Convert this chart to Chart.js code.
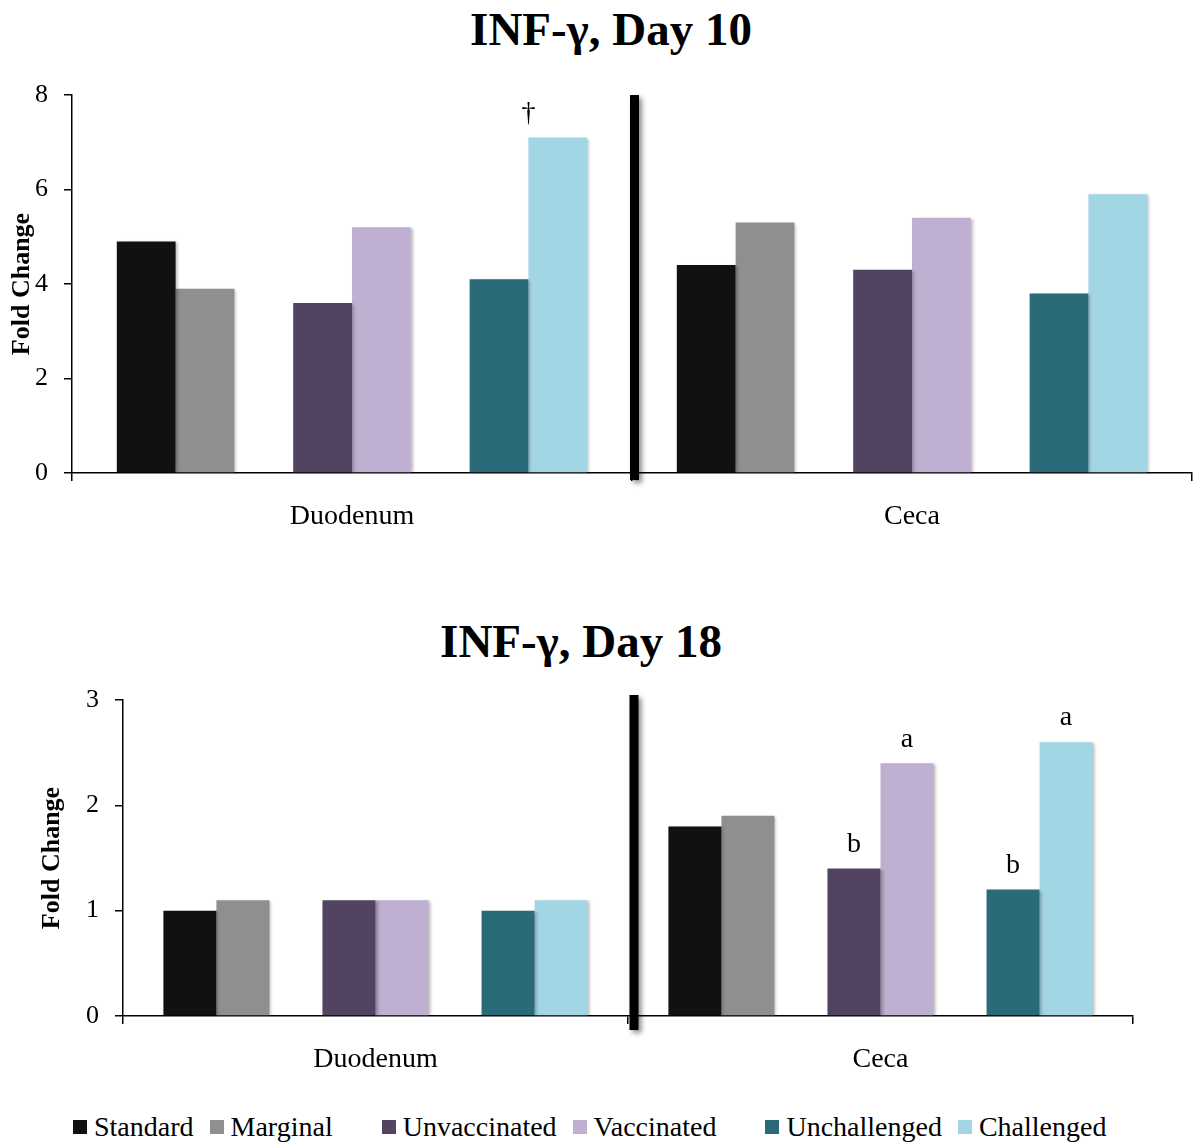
<!DOCTYPE html>
<html>
<head>
<meta charset="utf-8">
<script src="https://cdn.jsdelivr.net/npm/chart.js@4.4.0/dist/chart.umd.min.js"></script>
<style>
  html, body { margin: 0; padding: 0; background: #fff; }
  body { width: 1199px; height: 1143px; position: relative; overflow: hidden; font-family: "Liberation Serif", serif; }
  .title { position: absolute; font-weight: bold; font-size: 47px; color: #000; white-space: nowrap; transform: translateX(-50%); line-height: 1; }
  #wrapTop { position: absolute; left: 0; top: 0; width: 1199px; height: 545px; }
  #wrapBottom { position: absolute; left: 0; top: 560px; width: 1199px; height: 540px; }
  #legend { position: absolute; top: 1111px; left: 73px; display: flex; align-items: center; font-size: 28px; color: #000; }
  #legend .item { display: flex; align-items: center; }
  #legend .box { width: 14px; height: 14px; margin-right: 7px; }
  #legend .pair { margin-right: 16px; }
  #legend .group { margin-right: 49px; }
</style>
</head>
<body>
<div class="title" style="left:611px; top:6px;">INF-γ, Day 10</div>
<div class="title" style="left:581px; top:618px;">INF-γ, Day 18</div>
<div id="wrapTop"><canvas id="chartTop"></canvas></div>
<div id="wrapBottom"><canvas id="chartBottom"></canvas></div>
<div id="legend"></div>

<script>
// categorías y series
const categories = ['Duodenum', 'Ceca'];
const seriesNames = ['Standard', 'Marginal', 'Unvaccinated', 'Vaccinated', 'Unchallenged', 'Challenged'];
const seriesColors = ['#111111', '#8f8f8f', '#524361', '#bfb0d2', '#2a6a79', '#a3d6e4'];

// Día 10
const day10Standard = [4.9, 4.4];
const day10Marginal = [3.9, 5.3];
const day10Unvaccinated = [3.6, 4.3];
const day10Vaccinated = [5.2, 5.4];
const day10Unchallenged = [4.1, 3.8];
const day10Challenged = [7.1, 5.9];
const day10Ticks = [0, 2, 4, 6, 8];
const day10Marks = [
  { series: 'Challenged', category: 'Duodenum', text: '†', edge: -0.5 }
];

// Día 18
const day18Standard = [1.0, 1.8];
const day18Marginal = [1.1, 1.9];
const day18Unvaccinated = [1.1, 1.4];
const day18Vaccinated = [1.1, 2.4];
const day18Unchallenged = [1.0, 1.2];
const day18Challenged = [1.1, 2.6];
const day18Ticks = [0, 1, 2, 3];
const day18Marks = [
  { series: 'Unvaccinated', category: 'Ceca', text: 'b', edge: 0 },
  { series: 'Vaccinated', category: 'Ceca', text: 'a', edge: 0 },
  { series: 'Unchallenged', category: 'Ceca', text: 'b', edge: 0 },
  { series: 'Challenged', category: 'Ceca', text: 'a', edge: 0 }
];

const FONT = "'Liberation Serif', serif";

// datasets con huecos entre pares
const buildDatasets = (values) => {
  const ds = [];
  values.forEach((v, i) => {
    ds.push({
      label: seriesNames[i],
      data: v,
      backgroundColor: seriesColors[i],
      borderWidth: 0
    });
    if (i === 1 || i === 3) {
      ds.push({ label: '_gap' + i, data: categories.map(() => null), backgroundColor: 'transparent' });
    }
  });
  return ds;
};

// sombra de barras + línea divisoria + letras
const decorPlugin = {
  id: 'decor',
  beforeDatasetsDraw(chart) {
    const ctx = chart.ctx;
    ctx.save();
    ctx.shadowColor = 'rgba(0,0,0,0.28)';
    ctx.shadowBlur = 3;
    ctx.shadowOffsetX = 2;
    ctx.shadowOffsetY = 1;
  },
  afterDatasetsDraw(chart) {
    chart.ctx.restore();
  },
  afterDraw(chart, args, opts) {
    const ctx = chart.ctx;
    const xs = chart.scales.x;
    const area = chart.chartArea;

    // divisoria
    const xDiv = (xs.getPixelForValue(0) + xs.getPixelForValue(1)) / 2 + opts.dividerShift;
    ctx.save();
    ctx.shadowColor = 'rgba(0,0,0,0.45)';
    ctx.shadowBlur = 5;
    ctx.shadowOffsetX = 3;
    ctx.shadowOffsetY = 3;
    ctx.fillStyle = '#000';
    ctx.fillRect(xDiv - 4.5, area.top + opts.dividerTop, 9, area.bottom - area.top - opts.dividerTop + opts.dividerBottom);
    ctx.restore();

    // letras de significancia
    ctx.save();
    ctx.fillStyle = '#000';
    ctx.font = '28px ' + FONT;
    ctx.textAlign = 'center';
    ctx.textBaseline = 'bottom';
    (opts.marks || []).forEach(m => {
      const dsIndex = chart.data.datasets.findIndex(d => d.label === m.series);
      const catIndex = categories.indexOf(m.category);
      const bar = chart.getDatasetMeta(dsIndex).data[catIndex];
      ctx.fillText(m.text, bar.x + m.edge * bar.width, bar.y - 10);
    });
    ctx.restore();
  }
};

const createChart = (canvasId, values, ticks, marks, cfg) => {
  const ctx = document.getElementById(canvasId);
  return new Chart(ctx, {
    type: 'bar',
    data: {
      labels: categories,
      datasets: buildDatasets(values)
    },
    plugins: [decorPlugin],
    options: {
      responsive: true,
      maintainAspectRatio: false,
      animation: false,
      layout: {
        padding: { top: cfg.padTop, right: cfg.padRight, left: 0, bottom: 0 }
      },
      datasets: {
        bar: { categoryPercentage: 0.84, barPercentage: 1.0 }
      },
      plugins: {
        legend: { display: false },
        tooltip: { enabled: false },
        decor: {
          marks: marks,
          dividerShift: cfg.dividerShift,
          dividerTop: cfg.dividerTop,
          dividerBottom: cfg.dividerBottom
        }
      },
      scales: {
        x: {
          afterFit: s => { s.height = cfg.xHeight; },
          border: { color: '#000', width: 1.5 },
          grid: { offset: true, drawOnChartArea: false, drawTicks: true, tickLength: 8, color: '#000', lineWidth: 1.5 },
          ticks: { color: '#000', font: { family: FONT, size: 28 }, padding: 19 }
        },
        y: {
          min: ticks[0],
          max: ticks[ticks.length - 1],
          afterFit: s => { s.width = cfg.yWidth; },
          afterBuildTicks: s => { s.ticks = ticks.map(v => ({ value: v })); },
          border: { color: '#000', width: 1.5 },
          grid: { drawOnChartArea: false, drawTicks: true, tickLength: 8, color: '#000', lineWidth: 1.5 },
          ticks: { color: '#000', font: { family: FONT, size: 26 }, padding: 16 },
          title: {
            display: true,
            text: 'Fold Change',
            color: '#000',
            font: { family: FONT, size: 26, weight: 'bold' },
            padding: { top: cfg.yTitlePad, bottom: 0 }
          }
        }
      }
    }
  });
};

createChart('chartTop',
  [day10Standard, day10Marginal, day10Unvaccinated, day10Vaccinated, day10Unchallenged, day10Challenged],
  day10Ticks, day10Marks,
  { padTop: 95, padRight: 7, xHeight: 72, yWidth: 72, yTitlePad: 7, dividerShift: 2.5, dividerTop: 0, dividerBottom: 7 });

createChart('chartBottom',
  [day18Standard, day18Marginal, day18Unvaccinated, day18Vaccinated, day18Unchallenged, day18Challenged],
  day18Ticks, day18Marks,
  { padTop: 140, padRight: 66, xHeight: 84, yWidth: 123, yTitlePad: 37, dividerShift: 6, dividerTop: -5, dividerBottom: 14 });

// leyenda
const legendEl = document.getElementById('legend');
seriesNames.forEach((name, i) => {
  const item = document.createElement('div');
  item.className = 'item ' + (i % 2 === 0 ? 'pair' : 'group');
  item.innerHTML = '<span class="box" style="background:' + seriesColors[i] + '"></span><span>' + name + '</span>';
  legendEl.appendChild(item);
});
</script>
</body>
</html>
